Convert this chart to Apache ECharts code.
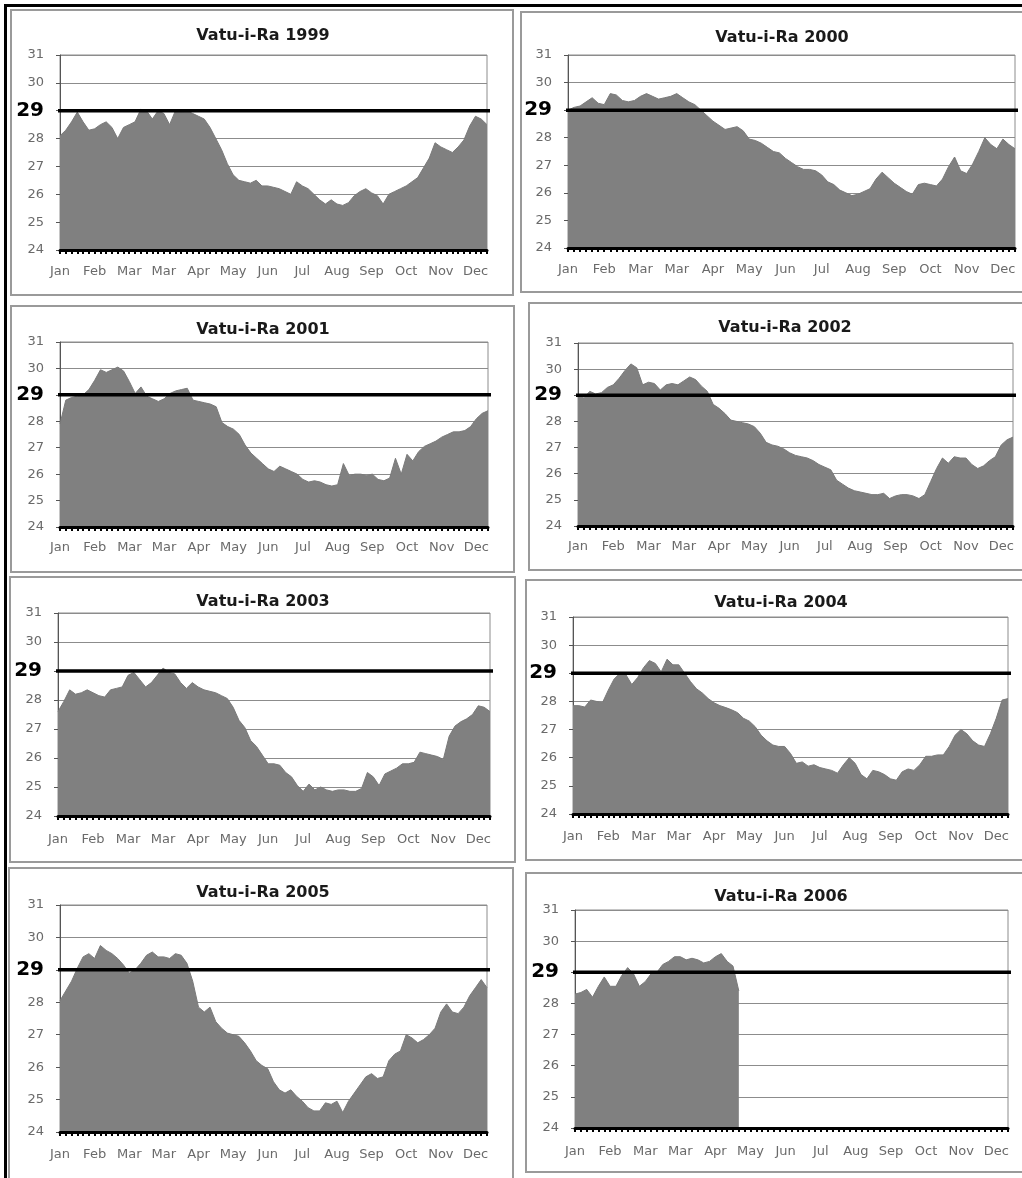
<!DOCTYPE html>
<html>
<head>
<meta charset="utf-8">
<script src="https://cdn.jsdelivr.net/npm/echarts@6/dist/echarts.min.js"></script>
<style>
html,body{margin:0;padding:0;background:#fff;}
#c{width:1022px;height:1178px;}
</style>
</head>
<body>
<div id="c"></div>
<script>
// ---------- DATA ----------
const tickLabels = ['Jan','Feb','Mar','Mar','Apr','May','Jun','Jul','Aug','Sep','Oct','Nov','Dec'];
const pointsPerLabel = 6;
const pointCount = 75;
const yMin = 24, yMax = 31, yStep = 1;
const threshold = 29;
const years = ['1999','2000','2001','2002','2003','2004','2005','2006'];

const sst1999 = [28.1,28.3,28.6,28.95,28.6,28.3,28.35,28.5,28.6,28.4,
  28.0,28.4,28.5,28.6,29.05,29.0,28.7,29.0,28.9,28.5,
  29.0,28.95,29.0,28.9,28.8,28.7,28.4,28.0,27.6,27.1,
  26.7,26.5,26.45,26.4,26.5,26.3,26.3,26.25,26.2,26.1,
  26.0,26.45,26.3,26.2,26.0,25.8,25.65,25.8,25.65,25.6,
  25.7,25.95,26.1,26.2,26.05,25.95,25.65,26.0,26.1,26.2,
  26.3,26.45,26.6,26.95,27.3,27.85,27.7,27.6,27.5,27.7,
  27.95,28.45,28.8,28.7,28.5];
const sst2000 = [29.0,29.1,29.15,29.3,29.45,29.25,29.2,29.6,29.55,29.35,
  29.3,29.35,29.5,29.6,29.5,29.4,29.45,29.5,29.6,29.45,
  29.3,29.2,29.0,28.8,28.6,28.45,28.3,28.35,28.4,28.25,
  27.95,27.9,27.8,27.65,27.5,27.45,27.25,27.1,26.95,26.85,
  26.85,26.8,26.65,26.4,26.3,26.1,26.0,25.9,25.95,26.05,
  26.15,26.5,26.75,26.55,26.35,26.2,26.05,25.95,26.3,26.35,
  26.3,26.25,26.5,26.95,27.3,26.8,26.7,27.05,27.5,28.0,
  27.75,27.6,27.95,27.75,27.6];
const sst2001 = [27.9,28.8,28.9,28.95,29.0,29.2,29.55,29.95,29.85,29.95,
  30.05,29.9,29.5,29.05,29.3,28.95,28.85,28.75,28.85,29.05,
  29.15,29.2,29.25,28.8,28.75,28.7,28.65,28.55,27.95,27.8,
  27.7,27.5,27.1,26.8,26.6,26.4,26.2,26.1,26.3,26.2,
  26.1,26.0,25.8,25.7,25.75,25.7,25.6,25.55,25.6,26.4,
  25.95,26.0,26.0,25.95,26.0,25.8,25.75,25.85,26.6,26.0,
  26.75,26.5,26.85,27.05,27.15,27.25,27.4,27.5,27.6,27.6,
  27.65,27.8,28.1,28.3,28.4];
const sst2002 = [28.95,28.9,29.15,29.05,29.1,29.3,29.4,29.65,29.95,30.2,
  30.05,29.4,29.5,29.45,29.2,29.4,29.45,29.4,29.55,29.7,
  29.6,29.35,29.15,28.65,28.5,28.3,28.05,28.0,27.95,27.9,
  27.8,27.55,27.2,27.1,27.05,26.95,26.8,26.7,26.65,26.6,
  26.5,26.35,26.25,26.15,25.75,25.6,25.45,25.35,25.3,25.25,
  25.2,25.2,25.25,25.05,25.15,25.2,25.2,25.15,25.05,25.2,
  25.7,26.2,26.6,26.4,26.65,26.6,26.6,26.35,26.2,26.3,
  26.5,26.65,27.1,27.3,27.4];
const sst2003 = [27.6,27.95,28.35,28.2,28.25,28.35,28.25,28.15,28.1,28.35,
  28.4,28.45,28.85,28.95,28.7,28.45,28.6,28.85,29.1,28.95,
  28.9,28.6,28.4,28.6,28.45,28.35,28.3,28.25,28.15,28.05,
  27.75,27.3,27.05,26.6,26.4,26.1,25.8,25.8,25.75,25.5,
  25.35,25.05,24.85,25.1,24.9,25.0,24.9,24.85,24.9,24.9,
  24.85,24.85,24.95,25.5,25.35,25.05,25.45,25.55,25.65,25.8,
  25.8,25.85,26.2,26.15,26.1,26.05,25.95,26.75,27.1,27.25,
  27.35,27.5,27.8,27.75,27.6];
const sst2004 = [27.85,27.85,27.8,28.05,28.0,27.95,28.4,28.8,29.0,28.95,
  28.6,28.85,29.2,29.45,29.35,29.05,29.5,29.3,29.3,29.0,
  28.7,28.45,28.3,28.1,27.95,27.85,27.78,27.7,27.6,27.4,
  27.3,27.1,26.8,26.6,26.45,26.4,26.4,26.15,25.8,25.85,
  25.7,25.75,25.65,25.6,25.55,25.45,25.75,26.0,25.8,25.4,
  25.25,25.55,25.5,25.4,25.25,25.2,25.5,25.6,25.55,25.75,
  26.05,26.05,26.1,26.1,26.4,26.8,27.0,26.85,26.6,26.45,
  26.4,26.85,27.4,28.05,28.1];
const sst2005 = [28.05,28.35,28.65,29.05,29.4,29.5,29.35,29.75,29.6,29.5,
  29.35,29.15,28.9,29.0,29.2,29.45,29.55,29.4,29.4,29.35,
  29.5,29.45,29.2,28.65,27.85,27.7,27.85,27.4,27.2,27.05,
  27.0,26.95,26.75,26.5,26.2,26.05,25.95,25.55,25.3,25.2,
  25.3,25.1,24.95,24.75,24.65,24.65,24.9,24.85,24.95,24.6,
  24.95,25.2,25.45,25.7,25.8,25.65,25.7,26.2,26.4,26.5,
  27.0,26.9,26.75,26.85,27.0,27.2,27.7,27.95,27.7,27.65,
  27.85,28.2,28.45,28.7,28.45];
const sst2006 = [28.3,28.35,28.45,28.2,28.55,28.85,28.55,28.55,28.9,29.15,
  28.95,28.55,28.7,28.95,29.0,29.25,29.35,29.5,29.5,29.4,
  29.45,29.4,29.3,29.35,29.5,29.6,29.35,29.2,28.4];

const seriesByYear = [sst1999, sst2000, sst2001, sst2002, sst2003, sst2004, sst2005, sst2006];

// ---------- LAYOUT (positions / sizes) ----------
const layout = [
  {left:60,  top:55,  width:427, height:195, tx:263, ty:37,  ext:[-0.028,1.023], lm:15, frame:[11,10,502,285]},
  {left:568, top:55,  width:447, height:193, tx:782, ty:39,  ext:[-0.007,1.05],  lm:15, frame:[521,12,520,280]},
  {left:60,  top:342, width:428, height:185, tx:263, ty:331, ext:[-0.028,1.023], lm:14, frame:[11,306,503,266]},
  {left:578, top:343, width:435, height:183, tx:785, ty:329, ext:[-0.025,1.05],  lm:14, frame:[529,303,520,267]},
  {left:58,  top:613, width:432, height:203, tx:263, ty:603, ext:[-0.023,1.023], lm:17, frame:[10,577,505,285]},
  {left:573, top:617, width:435, height:197, tx:781, ty:604, ext:[-0.018,1.05],  lm:16, frame:[526,580,520,280]},
  {left:60,  top:905, width:427, height:227, tx:263, ty:894, ext:[-0.023,1.019], lm:16, frame:[9,868,504,320]},
  {left:575, top:910, width:433, height:218, tx:781, ty:898, ext:[-0.018,1.05],  lm:17, frame:[526,873,520,299]}
];

const categories = Array.from({length: pointCount}, (_, i) => String(i));

const grids = [], xCat = [], xVal = [], yAxes = [], series = [], titles = [], graphics = [];

layout.forEach((p, k) => {
  grids.push({
    left: p.left, top: p.top, width: p.width, height: p.height,
    show: true, borderColor: '#8c8c8c', borderWidth: 1, backgroundColor: '#fff',
    containLabel: false, outerBoundsMode: 'none'
  });
  xCat.push({
    type: 'category', gridIndex: k, data: categories, boundaryGap: false, z: 3,
    axisLine: {show: true, lineStyle: {color: '#000', width: 3}},
    axisTick: {show: true, interval: 0, length: 4, lineStyle: {color: '#000', width: 2}},
    axisLabel: {
      show: true,
      interval: (idx) => idx % pointsPerLabel === 0 && idx / pointsPerLabel < tickLabels.length,
      formatter: (val, idx) => (idx % pointsPerLabel === 0 ? (tickLabels[idx / pointsPerLabel] || '') : ''),
      margin: p.lm, color: '#6a6a6a', fontSize: 13, fontFamily: 'DejaVu Sans', hideOverlap: false
    },
    splitLine: {show: false}
  });
  xVal.push({type: 'value', gridIndex: k, min: 0, max: 1, show: false});
  yAxes.push({
    type: 'value', gridIndex: k, min: yMin, max: yMax, interval: yStep,
    axisLine: {show: true, lineStyle: {color: '#555', width: 1}},
    axisTick: {show: true, length: 4, lineStyle: {color: '#555'}},
    axisLabel: {
      margin: 16, color: '#6a6a6a', fontSize: 13, fontFamily: 'DejaVu Sans',
      formatter: (v) => (v === threshold ? '{big|' + v + '}' : String(v)),
      rich: {big: {fontSize: 20, fontWeight: 'bold', color: '#000', fontFamily: 'DejaVu Sans'}}
    },
    splitLine: {show: true, lineStyle: {color: '#8c8c8c', width: 1}}
  });
  series.push({
    type: 'line', name: years[k], xAxisIndex: k, yAxisIndex: k,
    data: seriesByYear[k], symbol: 'none', silent: true,
    lineStyle: {color: '#7a7a7a', width: 1},
    areaStyle: {color: '#808080', opacity: 1},
    z: 2, animation: false
  });
  titles.push({
    text: 'Vatu-i-Ra ' + years[k], left: p.tx, top: p.ty - 9, textAlign: 'center', padding: 0,
    textStyle: {fontFamily: 'DejaVu Sans', fontWeight: 'bold', fontSize: 16, color: '#1a1a1a'}
  });
  graphics.push({
    type: 'rect', silent: true, z: -1,
    shape: {x: p.frame[0], y: p.frame[1], width: p.frame[2], height: p.frame[3]},
    style: {fill: 'none', stroke: '#9a9a9a', lineWidth: 2}
  });
});

// threshold lines (drawn on hidden value x-axes so they can overhang the plot)
layout.forEach((p, k) => {
  series.push({
    type: 'line', xAxisIndex: layout.length + k, yAxisIndex: k,
    data: [[p.ext[0], threshold], [p.ext[1], threshold]],
    symbol: 'none', clip: false, silent: true,
    lineStyle: {color: '#000', width: 3.5}, z: 5, animation: false
  });
});

graphics.push(
  {type: 'line', silent: true, shape: {x1: 4, y1: 5.5, x2: 1022, y2: 5.5}, style: {stroke: '#000', lineWidth: 3}},
  {type: 'line', silent: true, shape: {x1: 5.5, y1: 4, x2: 5.5, y2: 1178}, style: {stroke: '#000', lineWidth: 3}}
);

const chart = echarts.init(document.getElementById('c'), null, {renderer: 'canvas'});
chart.setOption({
  backgroundColor: '#fff',
  animation: false,
  title: titles,
  grid: grids,
  xAxis: xCat.concat(xVal),
  yAxis: yAxes,
  series: series,
  graphic: graphics,
  tooltip: {show: false},
  legend: {show: false}
});
</script>
</body>
</html>
